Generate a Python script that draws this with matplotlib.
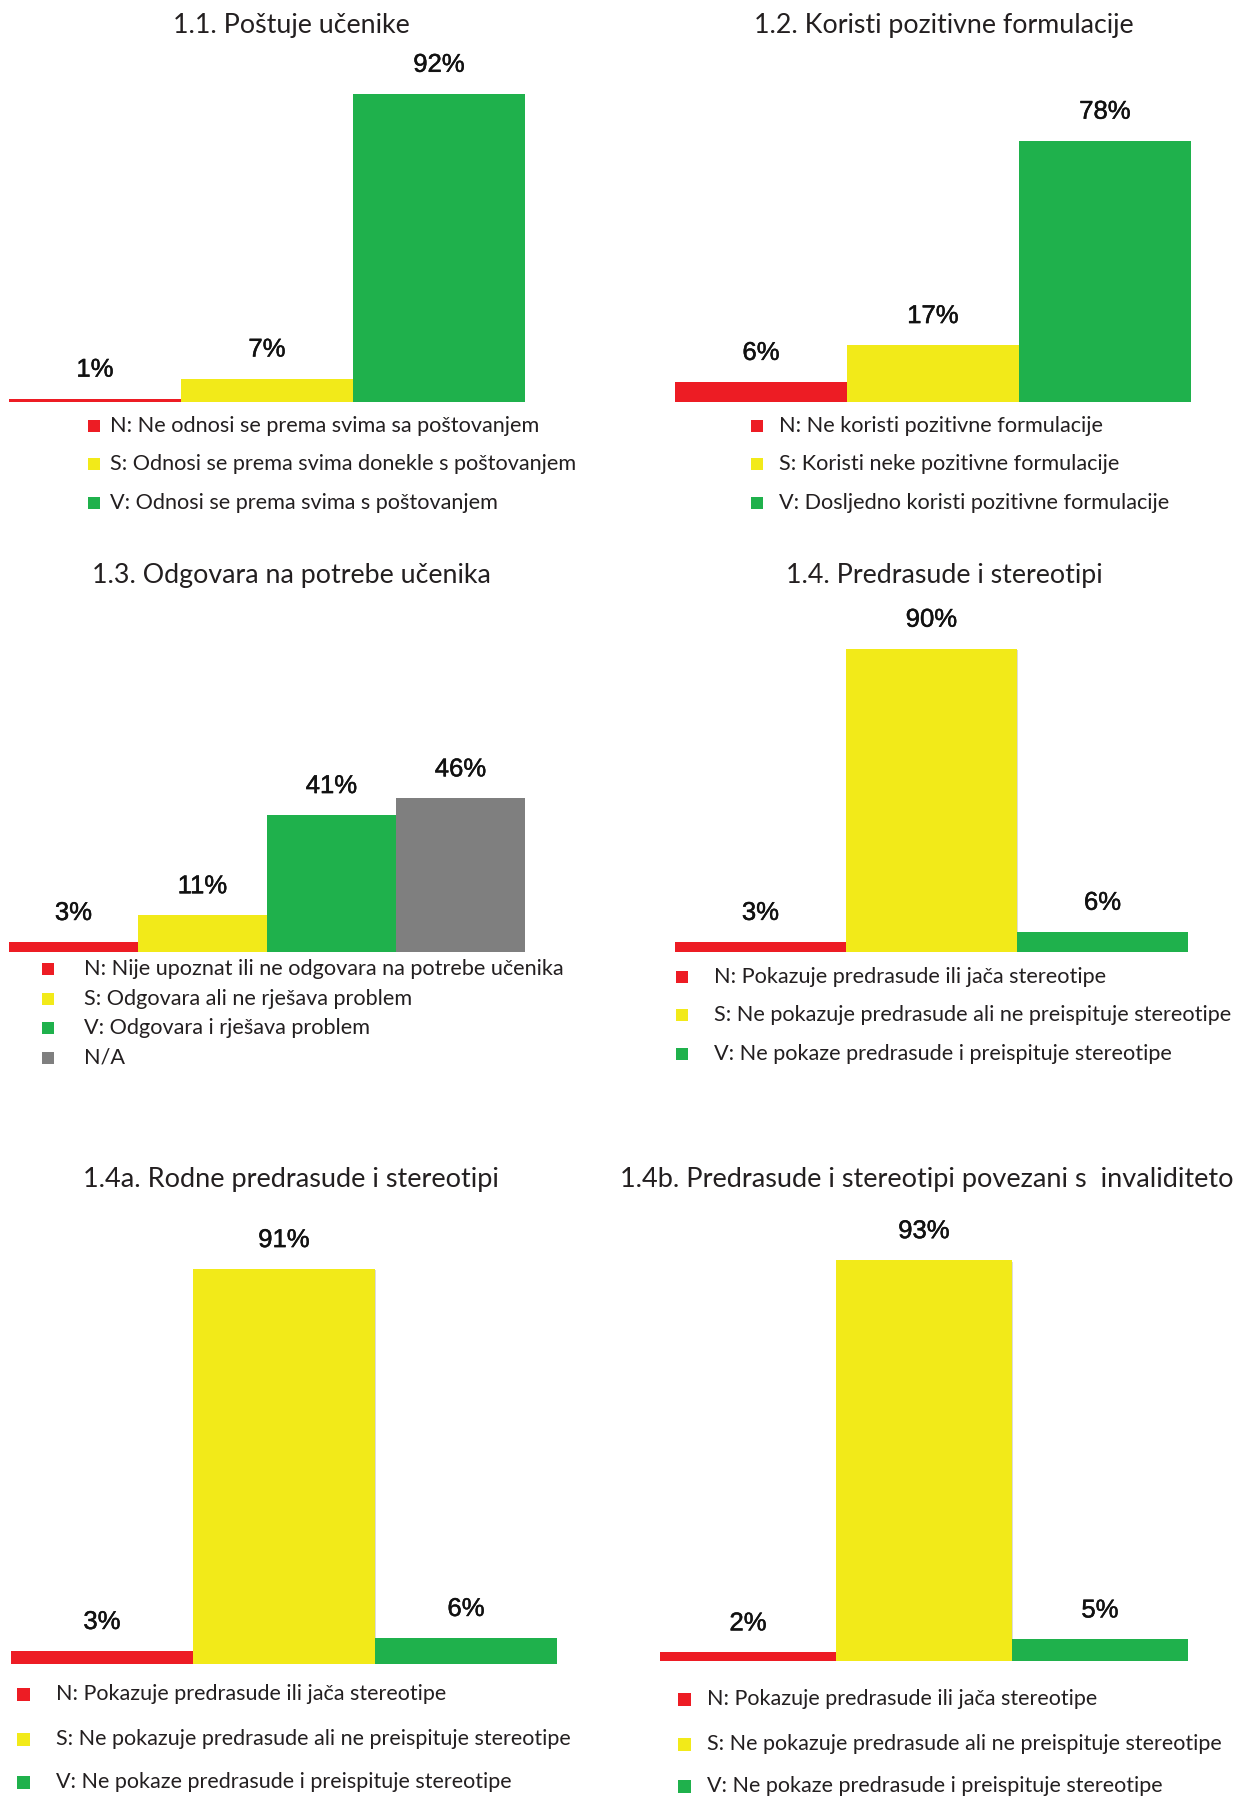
import matplotlib
matplotlib.use("Agg")
import matplotlib.pyplot as plt
from matplotlib.patches import Rectangle
import matplotlib.patheffects as pe

W, H = 1233, 1796

RED = "#ed1c24"
YELLOW = "#f2ea19"
GREEN = "#1fb14c"
GRAY = "#7f7f7f"

# 1.1
titles_11 = "1.1. Poštuje učenike"
labels_11 = ["N: Ne odnosi se prema svima sa poštovanjem",
             "S: Odnosi se prema svima donekle s poštovanjem",
             "V: Odnosi se prema svima s poštovanjem"]
values_11 = [1, 7, 92]

# 1.2
titles_12 = "1.2. Koristi pozitivne formulacije"
labels_12 = ["N: Ne koristi pozitivne formulacije",
             "S: Koristi neke pozitivne formulacije",
             "V: Dosljedno koristi pozitivne formulacije"]
values_12 = [6, 17, 78]

# 1.3
titles_13 = "1.3. Odgovara na potrebe učenika"
labels_13 = ["N: Nije upoznat ili ne odgovara na potrebe učenika",
             "S: Odgovara ali ne rješava problem",
             "V: Odgovara i rješava problem",
             "N/A"]
values_13 = [3, 11, 41, 46]

# 1.4, 1.4a, 1.4b share the same legend
labels_14 = ["N: Pokazuje predrasude ili jača stereotipe",
             "S: Ne pokazuje predrasude ali ne preispituje stereotipe",
             "V: Ne pokaze predrasude i preispituje stereotipe"]
titles_14 = "1.4. Predrasude i stereotipi"
values_14 = [3, 90, 6]
titles_14a = "1.4a. Rodne predrasude i stereotipi"
values_14a = [3, 91, 6]
titles_14b = "1.4b. Predrasude i stereotipi povezani s  invaliditetom"
values_14b = [2, 93, 5]

colors3 = [RED, YELLOW, GREEN]
colors4 = [RED, YELLOW, GREEN, GRAY]

TITLE_FONT = "Lato"
LEGEND_FONT = "Lato"
VALUE_FONT = "Liberation Sans"
TEXT_COLOR = "#231f20"

fig = plt.figure(figsize=(W / 100, H / 100), dpi=100)
fig.patch.set_facecolor("white")


def panel(x0, x1, base, scale, values, colors):
    """Bar panel; x0/x1/base in pixels from the top-left, scale = px per %."""
    h = 100 * scale
    ax = fig.add_axes([x0 / W, 1 - base / H, (x1 - x0) / W, h / H])
    n = len(values)
    bars = ax.bar(range(n), values, width=1.0, color=colors, zorder=2)
    for b in bars:
        b.set_path_effects([pe.SimplePatchShadow(offset=(1, -1), shadow_rgbFace="#999999", alpha=0.35),
                            pe.Normal()])
    ax.set_xlim(-0.5, n - 0.5)
    ax.set_ylim(0, 100)
    ax.axis("off")
    for i, v in enumerate(values):
        ax.annotate(f"{v}%", (i, v), xytext=(0, 29), textcoords="offset pixels",
                    ha="center", va="center", fontsize=18.5,
                    family=VALUE_FONT, color="#111111",
                    path_effects=[pe.withStroke(linewidth=0.35, foreground="#111111")])
    return ax


def title(text, x, y, ha="center", size=19.3):
    fig.text(x / W, 1 - y / H, text, ha=ha, va="center", fontsize=size,
             family=TITLE_FONT, color=TEXT_COLOR)


def legend(sq_x, txt_x, rows, labels, colors, size=15.6, sq=12):
    for y, lab, c in zip(rows, labels, colors):
        fig.add_artist(Rectangle((sq_x / W, 1 - (y + sq / 2) / H), sq / W, sq / H,
                                 transform=fig.transFigure, facecolor=c,
                                 edgecolor="none"))
        fig.text(txt_x / W, 1 - y / H, lab, ha="left", va="center",
                 fontsize=size, family=LEGEND_FONT, color=TEXT_COLOR)


# row 1
title(titles_11, 291, 25)
panel(9, 525, 402, 3.35, values_11, colors3)
legend(88, 110, [426, 464, 503], labels_11, colors3)

title(titles_12, 944, 25)
panel(675, 1191, 402, 3.35, values_12, colors3)
legend(751, 779, [426, 464, 503], labels_12, colors3)

# row 2
title(titles_13, 291, 575)
panel(9, 525, 952, 3.34, values_13, colors4)
legend(42, 84, [969, 999, 1028, 1058], labels_13, colors4)

title(titles_14, 944, 575)
panel(675, 1188, 952, 3.37, values_14, colors3)
legend(676, 714, [977, 1015, 1054], labels_14, colors3)

# row 3 (the long 1.4b title runs past the right edge)
title(titles_14a, 291, 1179, size=19.5)
panel(11, 557, 1664, 4.34, values_14a, colors3)
legend(17, 56, [1694, 1739, 1782], labels_14, colors3, size=15.5, sq=13)

title(titles_14b, 620, 1179, ha="left", size=19.5)
panel(660, 1188, 1661, 4.31, values_14b, colors3)
legend(678, 707, [1699, 1744, 1786], labels_14, colors3, size=15.5, sq=13)

fig.savefig("out.png", dpi=100, facecolor="white")
